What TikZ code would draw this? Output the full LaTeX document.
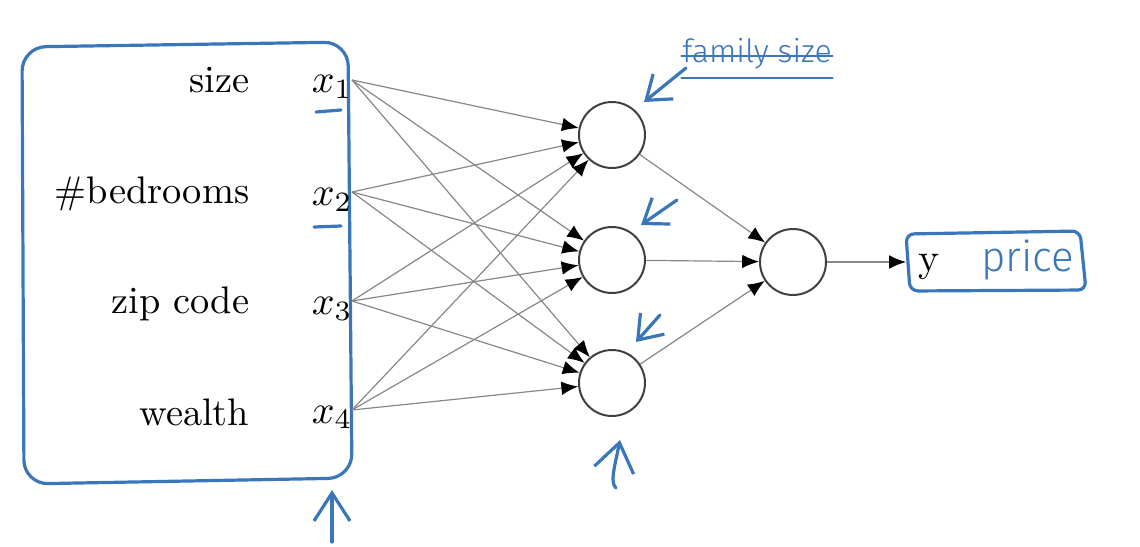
\documentclass[tikz,border=0pt]{standalone}
\usepackage{fontspec}
\newfontfamily\handfont{Fira Sans Light}
\usetikzlibrary{arrows.meta}
\definecolor{pen}{RGB}{58,118,186}
\definecolor{wire}{RGB}{135,135,135}
\tikzset{
  neuron/.style={circle,draw=black!75,line width=0.5pt,minimum size=16.5pt,inner sep=0pt},
  wirearrow/.style={draw=wire,line width=0.3pt,-{Latex[length=4.2pt,width=3.4pt,black]}},
  penline/.style={draw=pen,line width=0.8pt,line cap=round,line join=round},
  penarrow/.style={penline,-{Straight Barb[length=5.5pt,width=8pt]}},
  inlabel/.style={anchor=base east,inner sep=0pt,font=\fontsize{9.6}{11}\selectfont},
  xlabel/.style={anchor=base west,inner sep=0pt,font=\fontsize{10}{11}\selectfont},
}
\begin{document}
\begin{tikzpicture}[x=0.25pt,y=-0.25pt]
\useasboundingbox (0,0) rectangle (1140,547);
% input box
\draw[penline,rounded corners=6pt] (22,47) -- (348,42) -- (352,478) -- (24,484) -- cycle;
% input labels
\node[inlabel] (l1) at (250,92) {size};
\node[inlabel] (l2) at (250,203) {\#bedrooms};
\node[inlabel] (l3) at (250,313) {zip code};
\node[inlabel] (l4) at (250,425) {wealth};
\node[xlabel] (x1) at (311,92) {$x_1$};
\node[xlabel] (x2) at (311,205) {$x_2$};
\node[xlabel] (x3) at (311,314) {$x_3$};
\node[xlabel] (x4) at (311,423) {$x_4$};
\draw[penline] (316,112) -- (341,110);
\draw[penline] (314,227) -- (341,226);
% input points
\coordinate (i1) at (352,80);
\coordinate (i2) at (352,192);
\coordinate (i3) at (352,301);
\coordinate (i4) at (352,410);
% neurons
\node[neuron] (h1) at (612,135) {};
\node[neuron] (h2) at (612,260) {};
\node[neuron] (h3) at (612,383) {};
\node[neuron] (o) at (793,262) {};
% output box
\draw[penline,rounded corners=2pt] (906,234) -- (1080,231) -- (1086,290) -- (910,291) -- cycle;
\coordinate (yin) at (906,262);
\node[anchor=base west,inner sep=0pt,font=\fontsize{10}{11}\selectfont] (y) at (918,271) {y};
\node[anchor=base,inner sep=0pt,text=pen,font=\handfont\fontsize{10.5}{12}\selectfont] (price) at (1028,271) {price};
% connectors
\foreach \i in {1,2,3,4}{
  \foreach \h in {1,2,3}{
    \draw[wirearrow] (i\i) -- (h\h);
  }
}
\foreach \h in {1,2,3}{
  \draw[wirearrow] (h\h) -- (o);
}
\draw[wirearrow] (o) -- (yin);
% annotation arrows
\draw[penarrow] (686,68) -- (644,102);
\draw[penarrow] (677,200) -- (641,225);
\draw[penarrow] (660,315) -- (636,342);
\draw[penline,-{Straight Barb[length=7pt,width=10pt]}] (616,488) .. controls (610,482) and (614,470) .. (620,440);
\draw[penline,-{Straight Barb[length=7pt,width=9pt]}] (332,542) -- (332,490);
% struck-out note
\node[text=pen,inner sep=0pt,font=\handfont\fontsize{8}{9}\selectfont] (fam) at (757,54) {family size};
\draw[penline,line width=0.6pt] (fam.west) ++(0,2) -- ([yshift=-0.5pt]fam.east);
\draw[penline,line width=0.6pt] ([yshift=-2pt]fam.south west) -- ([yshift=-2pt]fam.south east);
\end{tikzpicture}
\end{document}
